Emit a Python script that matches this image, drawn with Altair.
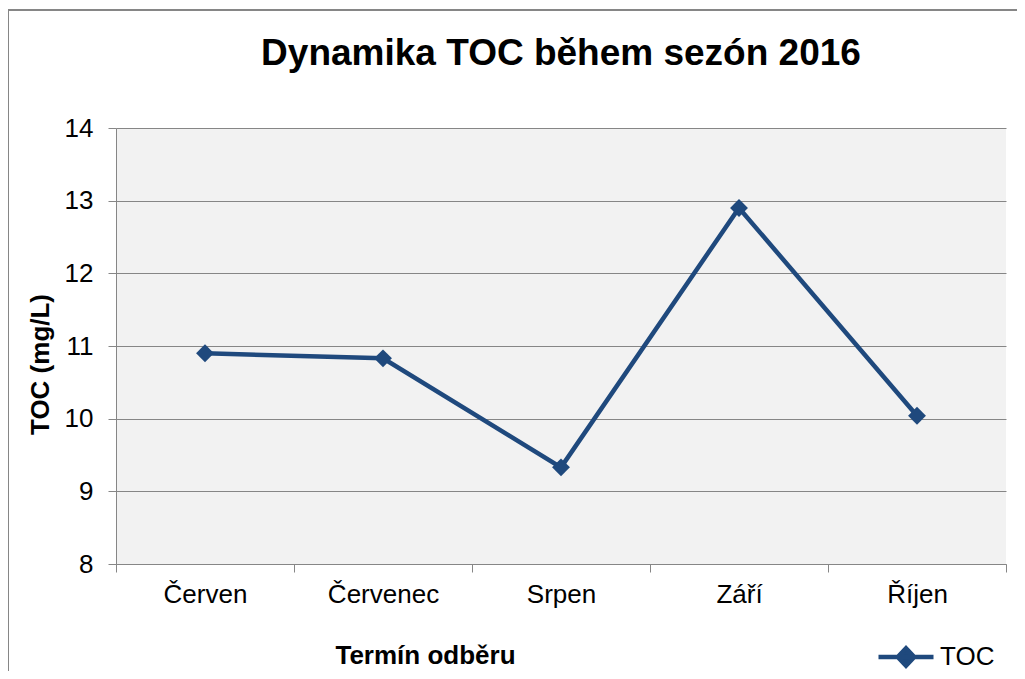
import altair as alt
import pandas as pd

months = ["Červen", "Červenec", "Srpen", "Září", "Říjen"]
toc = [10.9, 10.83, 9.33, 12.9, 10.04]
series = ["TOC"] * 5
y_ticks = [8, 9, 10, 11, 12, 13, 14]

df = pd.DataFrame({"month": months, "toc": toc, "series": series})

FONT = "Liberation Sans"
BLUE = "#1F497D"
GRAY = "#868686"

line = alt.Chart(df).mark_line(
    strokeWidth=4.5,
    point=alt.OverlayMarkDef(shape="diamond", size=320, filled=True, color=BLUE),
).encode(
    x=alt.X(
        "month:N",
        sort=months,
        scale=alt.Scale(type="band", paddingInner=0, paddingOuter=0),
        axis=alt.Axis(
            title="Termín odběru",
            titleFont=FONT, titleFontSize=26, titleFontWeight="bold", titleColor="black",
            titleX=309, titleY=99, titleAlign="center", titleBaseline="alphabetic",
            labelFont=FONT, labelFontSize=26, labelColor="black", labelAngle=0,
            labelPadding=9,
            tickBand="extent", tickSize=8, tickColor=GRAY, tickWidth=1,
            domainColor=GRAY, domainWidth=1, grid=False,
        ),
    ),
    y=alt.Y(
        "toc:Q",
        scale=alt.Scale(domain=[8, 14], nice=False, zero=False),
        axis=alt.Axis(
            values=y_ticks,
            title="TOC (mg/L)",
            titleFont=FONT, titleFontSize=26, titleFontWeight="bold", titleColor="black",
            titleX=-76, titleY=236, titleAlign="center", titleBaseline="middle", titleAngle=270,
            labelFont=FONT, labelFontSize=26, labelColor="black", labelPadding=15,
            tickSize=8, tickColor=GRAY, tickWidth=1,
            domainColor=GRAY, domainWidth=1,
            grid=True, gridColor=GRAY, gridWidth=1,
        ),
    ),
    color=alt.Color(
        "series:N",
        scale=alt.Scale(range=[BLUE]),
        legend=alt.Legend(
            title=None, orient="none", legendX=760, legendY=499,
            labelFont=FONT, labelFontSize=26, labelColor="black",
            symbolType="M-1,0L1,0M-0.3,0L0,-0.32L0.3,0L0,0.32Z",
            symbolSize=3025, symbolStrokeWidth=4.5,
            symbolFillColor=BLUE, symbolStrokeColor=BLUE, labelOffset=4,
        ),
    ),
)

border = alt.Chart(pd.DataFrame({"a": [0]})).mark_rect(
    fill=None, stroke=GRAY, strokeWidth=2
).encode(
    x=alt.value(-108), x2=alt.value(940), y=alt.value(-118), y2=alt.value(600)
)

chart = alt.layer(border, line).properties(
    width=890,
    height=436,
    title=alt.TitleParams(
        "Dynamika TOC během sezón 2016",
        font=FONT, fontSize=37, fontWeight="bold", color="black",
        anchor="middle", offset=0, baseline="alphabetic", dy=93,
    ),
    autosize=alt.AutoSizeParams(type="none"),
    padding={"left": 108, "top": 120, "right": 11, "bottom": 107},
).configure(font=FONT, background="white").configure_view(fill="#F2F2F2", stroke=None)

chart.save("out.html", embed_options={"renderer": "svg", "actions": False})
